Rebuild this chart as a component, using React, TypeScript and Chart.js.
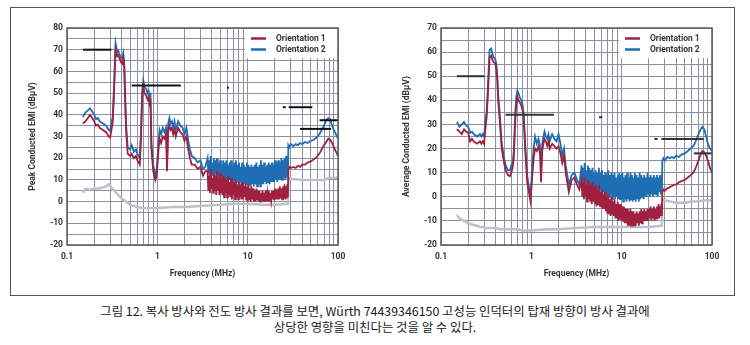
import React, { useEffect, useRef } from "react";
import { Chart, registerables } from "chart.js";

Chart.register(...registerables);

// ---------- DATA ----------
// frequency grid (MHz) used by both orientation traces
const freqMHz = [
  0.15, 0.16, 0.17, 0.18, 0.19, 0.2, 0.21, 0.22, 0.23, 0.25,
  0.27, 0.28, 0.29, 0.3, 0.31, 0.32, 0.33, 0.345, 0.36, 0.37,
  0.38, 0.4, 0.41, 0.42, 0.43, 0.45, 0.47, 0.5, 0.52, 0.55,
  0.58, 0.6, 0.62, 0.64, 0.66, 0.68, 0.7, 0.72, 0.75, 0.78,
  0.8, 0.82, 0.84, 0.86, 0.9, 0.95, 0.98, 1.0, 1.03, 1.06,
  1.1, 1.15, 1.2, 1.25, 1.28, 1.32, 1.36, 1.4, 1.45, 1.5,
  1.55, 1.6, 1.7, 1.8, 1.9, 2.0, 2.1, 2.2, 2.3, 2.4,
  2.6, 2.8, 3.0, 3.2, 3.4,
  // dense sweep through the noisy band
  3.6, 3.67, 3.75, 3.82, 3.9, 3.98, 4.06, 4.14, 4.22, 4.31,
  4.4, 4.49, 4.58, 4.67, 4.76, 4.86, 4.96, 5.06, 5.16, 5.26,
  5.37, 5.48, 5.59, 5.7, 5.82, 5.93, 6.05, 6.18, 6.3, 6.43,
  6.56, 6.69, 6.83, 6.97, 7.11, 7.25, 7.4, 7.55, 7.7, 7.85,
  8.01, 8.18, 8.34, 8.51, 8.68, 8.86, 9.04, 9.22, 9.41, 9.6,
  9.79, 9.99, 10.2, 10.4, 10.6, 10.8, 11.0, 11.3, 11.5, 11.7,
  12.0, 12.2, 12.5, 12.7, 13.0, 13.2, 13.5, 13.8, 14.0, 14.3,
  14.6, 14.9, 15.2, 15.5, 15.8, 16.1, 16.5, 16.8, 17.1, 17.5,
  17.8, 18.2, 18.6, 18.9, 19.3, 19.7, 20.1, 20.5, 20.9, 21.3,
  21.8, 22.2, 22.7, 23.1, 23.6, 24.1, 24.6, 25.1, 25.6, 26.1,
  26.6, 27.1, 27.5, 27.9,
  28.2, 29, 30, 32, 34, 36, 38, 40, 43, 46,
  50, 54, 58, 62, 66, 70, 74, 78, 82, 86,
  90, 95, 100,
];

// Peak conducted EMI (dBµV)
const peakOrientation1 = [
  36, 37, 38.5, 40, 38.5, 37, 35, 35.5, 34, 33,
  32, 31, 30, 29.5, 33, 36, 48, 70, 67, 67.5,
  66, 64, 63.5, 66, 62, 33, 22, 21, 22, 20,
  21, 19, 18, 17, 30, 48, 53, 50, 49, 47,
  48, 45, 46, 24, 14, 10, 12, 16, 24, 29,
  27, 30, 29, 31, 14, 33, 35, 33, 34, 31,
  33, 30, 34, 32, 31, 28, 30, 24, 20, 17,
  17, 15, 16, 12, 14,
  14, 5, 12, 4, 15, 6, 11, 4, 13, 5,
  12, 3, 14, 5, 11, 3, 13, 4, 10, 3,
  12, 2, 11, 4, 10, 2, 12, 3, 9, 2,
  11, 1, 10, 3, 9, 1, 10, 2, 8, 1,
  9, 2, 8, 1, 9, 1, 7, 2, 8, 1,
  7, 0, 8, 1, 6, 0, 7, 1, 6, 0,
  5, 0, 6, 1, 5, 0, 5, 0, 4, 0,
  5, 0, 4, 0, 5, 0, 4, 0.5, 5, 0,
  4, 0.5, 5, 1, 5, 0.5, 6, 1, 5, 1,
  6, 1, 7, 1.5, 6, 1, 7, 1.5, 8, 1,
  7, 1.5, 8, 2,
  15, 16, 15.5, 16, 15.5, 16.5, 16, 17, 17, 18,
  18.5, 19.5, 20.5, 22, 24, 26, 27.5, 29, 28.5, 27,
  25, 23, 21,
];

const peakOrientation2 = [
  39, 41, 42, 43, 41.5, 40, 38, 38.5, 37, 36,
  35, 34, 33, 32.5, 36, 39, 51, 73, 69, 69.5,
  68, 66, 66, 68.5, 64, 36, 25, 24, 26, 23,
  24, 22, 21, 20, 33, 51, 56, 53, 52, 50,
  51, 48, 49, 27, 17, 12, 14, 19, 27, 33,
  31, 34, 32, 34, 18, 36, 38.5, 36, 37, 34,
  37, 33, 37, 35, 34, 31, 34, 28, 24, 21,
  20, 18, 19, 15, 16,
  20, 13, 19, 12, 21, 13, 18, 12, 20, 13,
  19, 11, 20, 12, 18, 11, 19, 12, 17, 10,
  19, 11, 18, 10, 19, 11, 17, 10, 18, 10,
  19, 9, 17, 10, 18, 9, 19, 10, 17, 9,
  18, 9, 16, 8, 18, 9, 17, 8, 16, 8,
  18, 8, 17, 8, 16, 7, 17, 8, 16, 7,
  17, 8, 18, 7, 16, 8, 17, 7, 19, 8,
  17, 8, 18, 9, 16, 8, 17, 9, 18, 8,
  17, 9, 18, 9, 17, 9, 19, 10, 18, 9,
  19, 10, 18, 10, 20, 10, 19, 11, 20, 10,
  21, 11, 19, 12,
  26, 25, 26.5, 25.5, 26.5, 26, 27, 26.5, 27.5, 27,
  28, 28.5, 29.5, 31, 33, 35, 37.5, 38.5, 38, 35,
  33, 31, 29,
];

// Average conducted EMI (dBµV)
const avgOrientation1 = [
  28, 27, 26, 28, 27, 26.5, 23, 24, 23, 22,
  23, 22, 23, 22, 28, 33, 42, 58, 58.5, 57,
  56, 55, 53, 48, 40, 30, 20, 14, 11, 9,
  8.5, 10, 12, 16, 30, 38, 41.5, 40, 39, 37.5,
  36, 33, 26, 18, 6, 1, -2, 3, 10, 16,
  20, 19, 21, 18, 6, 19, 22, 24, 23, 21,
  23, 20, 22, 21, 20, 21, 18, 14, 17, 10,
  2, 7, 8, 5, 3,
  7, 0, 6, -1, 8, 0, 5, -2, 7, -1,
  6, -2, 5, -3, 6, -2, 4, -3, 5, -4,
  3, -3, 5, -4, 2, -4, 3, -5, 1, -5,
  2, -6, 0, -7, 1, -7, -1, -8, 0, -7,
  -2, -8, -1, -9, -3, -9, -2, -10, -3, -9,
  -3, -10, -4, -10, -4, -11, -5, -11, -5, -12,
  -6, -12, -5, -12, -6, -12, -6, -12, -7, -12,
  -6, -11, -7, -12, -6, -11, -5, -11, -6, -10,
  -5, -10, -6, -10, -5, -10, -5, -9, -4, -10,
  -5, -9, -4, -10, -5, -9, -4, -9, -3, -9,
  -4, -8, -3, -8,
  2, 3, 2.5, 3.5, 4, 4.5, 5, 5, 6, 6.5,
  7, 8, 9, 10, 12, 14.5, 17, 19, 18.5, 17,
  15, 12, 10,
];

const avgOrientation2 = [
  31, 29, 30, 31, 29.5, 29, 26.5, 27, 26, 25,
  26, 25, 26, 25, 32, 35, 45, 61, 61.5, 59.5,
  58, 57, 55, 50, 42, 33, 22, 16, 13, 11,
  11, 13, 14, 19, 33, 41, 44, 43, 41, 40,
  38, 35, 28, 20, 9, 3, 0, 6, 14, 20,
  25, 22, 24, 21, 10, 22, 25, 27, 25, 24,
  26, 23, 26, 24, 23, 26, 22, 17, 20, 13,
  5, 9, 10, 7, 5,
  13, 5, 12, 4, 14, 6, 11, 4, 13, 5,
  12, 3, 11, 4, 12, 3, 10, 2, 11, 3,
  10, 2, 12, 3, 10, 1, 11, 2, 9, 1,
  10, 0, 9, 1, 11, 0, 9, 1, 10, -1,
  9, 0, 10, -1, 8, 0, 9, -1, 10, -1,
  9, -1, 10, -2, 8, -1, 9, -2, 10, -1,
  8, -2, 10, -1, 9, -2, 8, -1, 10, -2,
  9, -1, 8, -2, 10, -1, 9, 0, 8, -1,
  9, 0, 8, 0, 10, 1, 8, 0, 9, 1,
  8, 0, 9, 1, 8, 1, 9, 0, 8, 2,
  9, 1, 8, 2,
  15, 16, 15, 16.5, 16, 16.5, 16, 17, 16.5, 17.5,
  18, 19, 20, 21, 23, 25.5, 27.5, 29, 28, 25,
  22, 20, 19,
];

// ambient (noise floor) traces
const ambientFreqMHz = [
  0.15, 0.16, 0.18, 0.2, 0.22, 0.25, 0.27, 0.29, 0.31, 0.35,
  0.4, 0.45, 0.5, 0.6, 0.7, 0.8, 1, 1.5, 2, 3,
  5, 7, 10, 15, 20, 27.9,
  28.2, 30, 40, 50, 60, 70, 80, 90, 100,
];
const peakAmbient = [
  4, 6, 5.5, 6, 6, 6.5, 7, 8, 6.5, 4,
  1.5, 0, -1.5, -2.5, -3, -3, -3, -2.5, -2.5, -2,
  -1.5, -1, -1, -1.5, -1.5, -1,
  11, 10.5, 10, 10, 10, 10, 11, 11, 11,
];
const avgAmbient = [
  -7.5, -9, -10, -11, -11.5, -12, -12.5, -12.5, -13, -13,
  -13, -13.5, -13.5, -13.5, -13.5, -14, -14, -13.5, -13.5, -13,
  -12.5, -12.5, -12.5, -12.5, -12.5, -12,
  -1, -1.5, -2.5, -2.5, -2, -2, -1.5, -1.5, -1.5,
];

// limit line segments
const peakLimitStart = [0.15, 0.52, 5.9, 24.5, 28.5, 38, 62.5];
const peakLimitEnd = [0.31, 1.82, 6.2, 26.4, 52, 84, 100];
const peakLimitLevel = [70, 53.5, 52.5, 43.5, 43.5, 33.5, 37.5];

const avgLimitStart = [0.15, 0.52, 5.6, 23, 27.5, 63];
const avgLimitEnd = [0.305, 1.78, 6.1, 25, 81, 100];
const avgLimitLevel = [50, 34, 33, 24, 24, 18];

// axes
const xDecades = [0.1, 1, 10];
const xMultipliers = [1, 2, 3, 4, 5, 6, 7, 8, 9];
const xTickLabels = [0.1, 1, 10, 100];
const legendLabels = ["Orientation 1", "Orientation 2"];

const RED = "#a0213f";
const BLUE = "#1f6db3";
const GREY = "#bcc0cb";
const GRID = "#8c91a1";
const FRAME = "#555a6a";
const TEXT = "#333333";
const FONT = "Roboto, 'DejaVu Sans', sans-serif";

const gridFreqs: number[] = [];
xDecades.forEach((d) => xMultipliers.forEach((m) => gridFreqs.push(d * m)));
gridFreqs.push(100);

const toPoints = (xs: number[], ys: number[]) => xs.map((x, i) => ({ x, y: ys[i] }));

const plotFrame = {
  id: "plotFrame",
  afterDatasetsDraw(chart: any) {
    const { ctx, chartArea: a } = chart;
    ctx.save();
    ctx.strokeStyle = FRAME;
    ctx.lineWidth = 1.5;
    ctx.strokeRect(a.left, a.top, a.right - a.left, a.bottom - a.top);
    ctx.restore();
  },
};

const insideLegend = {
  id: "insideLegend",
  afterDraw(chart: any) {
    const { ctx, chartArea: a } = chart;
    const w = 92;
    const h = 29;
    const x = a.right - w - 1;
    const y = a.top + 1;
    ctx.save();
    ctx.fillStyle = "#ffffff";
    ctx.fillRect(x, y, w, h);
    const colors = [RED, BLUE];
    legendLabels.forEach((label, i) => {
      const cy = y + 9.5 + i * 11;
      ctx.strokeStyle = colors[i];
      ctx.lineWidth = 2.5;
      ctx.beginPath();
      ctx.moveTo(x + 6, cy);
      ctx.lineTo(x + 21, cy);
      ctx.stroke();
      ctx.fillStyle = TEXT;
      ctx.font = `bold 8.5px ${FONT}`;
      ctx.textBaseline = "middle";
      ctx.textAlign = "left";
      ctx.fillText(label, x + 31, cy);
    });
    ctx.restore();
  },
};

type ChartProps = {
  left: number;
  yMax: number;
  yTitle: string;
  o1: number[];
  o2: number[];
  ambient: number[];
  limStart: number[];
  limEnd: number[];
  limLevel: number[];
  limColor: string;
};

function EmiChart(p: ChartProps) {
  const ref = useRef<HTMLCanvasElement | null>(null);
  useEffect(() => {
    if (!ref.current) return;
    const limitSets = p.limStart.map((s, i) => ({
      data: [
        { x: s, y: p.limLevel[i] },
        { x: p.limEnd[i], y: p.limLevel[i] },
      ],
      borderColor: p.limColor,
      borderWidth: 2,
      pointRadius: 0,
      showLine: true,
    }));
    const chart = new Chart(ref.current, {
      type: "scatter",
      data: {
        datasets: [
          ...limitSets,
          { data: toPoints(freqMHz, p.o1), borderColor: RED, borderWidth: 1.8, pointRadius: 0, showLine: true },
          { data: toPoints(freqMHz, p.o2), borderColor: BLUE, borderWidth: 1.8, pointRadius: 0, showLine: true },
          { data: toPoints(ambientFreqMHz, p.ambient), borderColor: GREY, borderWidth: 2.5, pointRadius: 0, showLine: true },
        ] as any,
      },
      options: {
        animation: false,
        responsive: false,
        events: [],
        layout: { padding: { top: 18, right: 24, bottom: 0, left: 0 } },
        plugins: { legend: { display: false }, tooltip: { enabled: false } },
        scales: {
          x: {
            type: "logarithmic",
            min: 0.1,
            max: 100,
            afterBuildTicks: (scale: any) => {
              scale.ticks = gridFreqs.map((v) => ({ value: v }));
            },
            afterFit: (scale: any) => {
              scale.height = 45;
            },
            grid: { color: GRID, lineWidth: 1, drawTicks: false },
            border: { display: false },
            ticks: {
              autoSkip: false,
              maxRotation: 0,
              padding: 7,
              color: TEXT,
              font: { family: FONT, size: 8.5, weight: "bold" },
              callback: (v: any) => (xTickLabels.includes(Number(v)) ? String(v) : ""),
            },
            title: {
              display: true,
              text: "Frequency (MHz)",
              color: TEXT,
              font: { family: FONT, size: 8.5, weight: "bold" },
              padding: { top: 0, bottom: 11 },
            },
          },
          y: {
            type: "linear",
            min: -20,
            max: p.yMax,
            afterFit: (scale: any) => {
              scale.width = 55;
            },
            grid: { color: GRID, lineWidth: 1, drawTicks: false },
            border: { display: false },
            ticks: {
              stepSize: 5,
              autoSkip: false,
              padding: 4,
              color: TEXT,
              font: { family: FONT, size: 8.5, weight: "bold" },
              callback: (v: any) => (Number(v) % 10 === 0 ? String(v) : ""),
            },
            title: {
              display: true,
              text: p.yTitle,
              color: TEXT,
              font: { family: FONT, size: 8.5, weight: "bold" },
              padding: { top: 16, bottom: 0 },
            },
          },
        },
      } as any,
      plugins: [plotFrame, insideLegend],
    });
    return () => chart.destroy();
  }, []);
  return (
    <canvas
      ref={ref}
      width={350}
      height={280}
      style={{ position: "absolute", left: p.left, top: 10, width: 350, height: 280 }}
    />
  );
}

export default function App() {
  return (
    <div style={{ position: "absolute", left: 0, top: 0, width: 750, height: 345, background: "#fff" }}>
      <div
        style={{
          position: "absolute",
          left: 10,
          top: 7,
          width: 725,
          height: 289,
          boxSizing: "border-box",
          border: "1px solid #555",
        }}
      />
      <EmiChart
        left={12}
        yMax={80}
        yTitle="Peak Conducted EMI (dBµV)"
        o1={peakOrientation1}
        o2={peakOrientation2}
        ambient={peakAmbient}
        limStart={peakLimitStart}
        limEnd={peakLimitEnd}
        limLevel={peakLimitLevel}
        limColor="#111111"
      />
      <EmiChart
        left={386}
        yMax={70}
        yTitle="Average Conducted EMI (dBµV)"
        o1={avgOrientation1}
        o2={avgOrientation2}
        ambient={avgAmbient}
        limStart={avgLimitStart}
        limEnd={avgLimitEnd}
        limLevel={avgLimitLevel}
        limColor="#333333"
      />
      <div
        style={{
          position: "absolute",
          left: 0,
          top: 303,
          width: 750,
          textAlign: "center",
          fontFamily: "'Noto Sans CJK KR', sans-serif",
          fontSize: 12.4,
          lineHeight: "16px",
          color: "#1a1a1a",
        }}
      >
        <div>그림 12. 복사 방사와 전도 방사 결과를 보면, Würth 74439346150 고성능 인덕터의 탑재 방향이 방사 결과에</div>
        <div>상당한 영향을 미친다는 것을 알 수 있다.</div>
      </div>
    </div>
  );
}
